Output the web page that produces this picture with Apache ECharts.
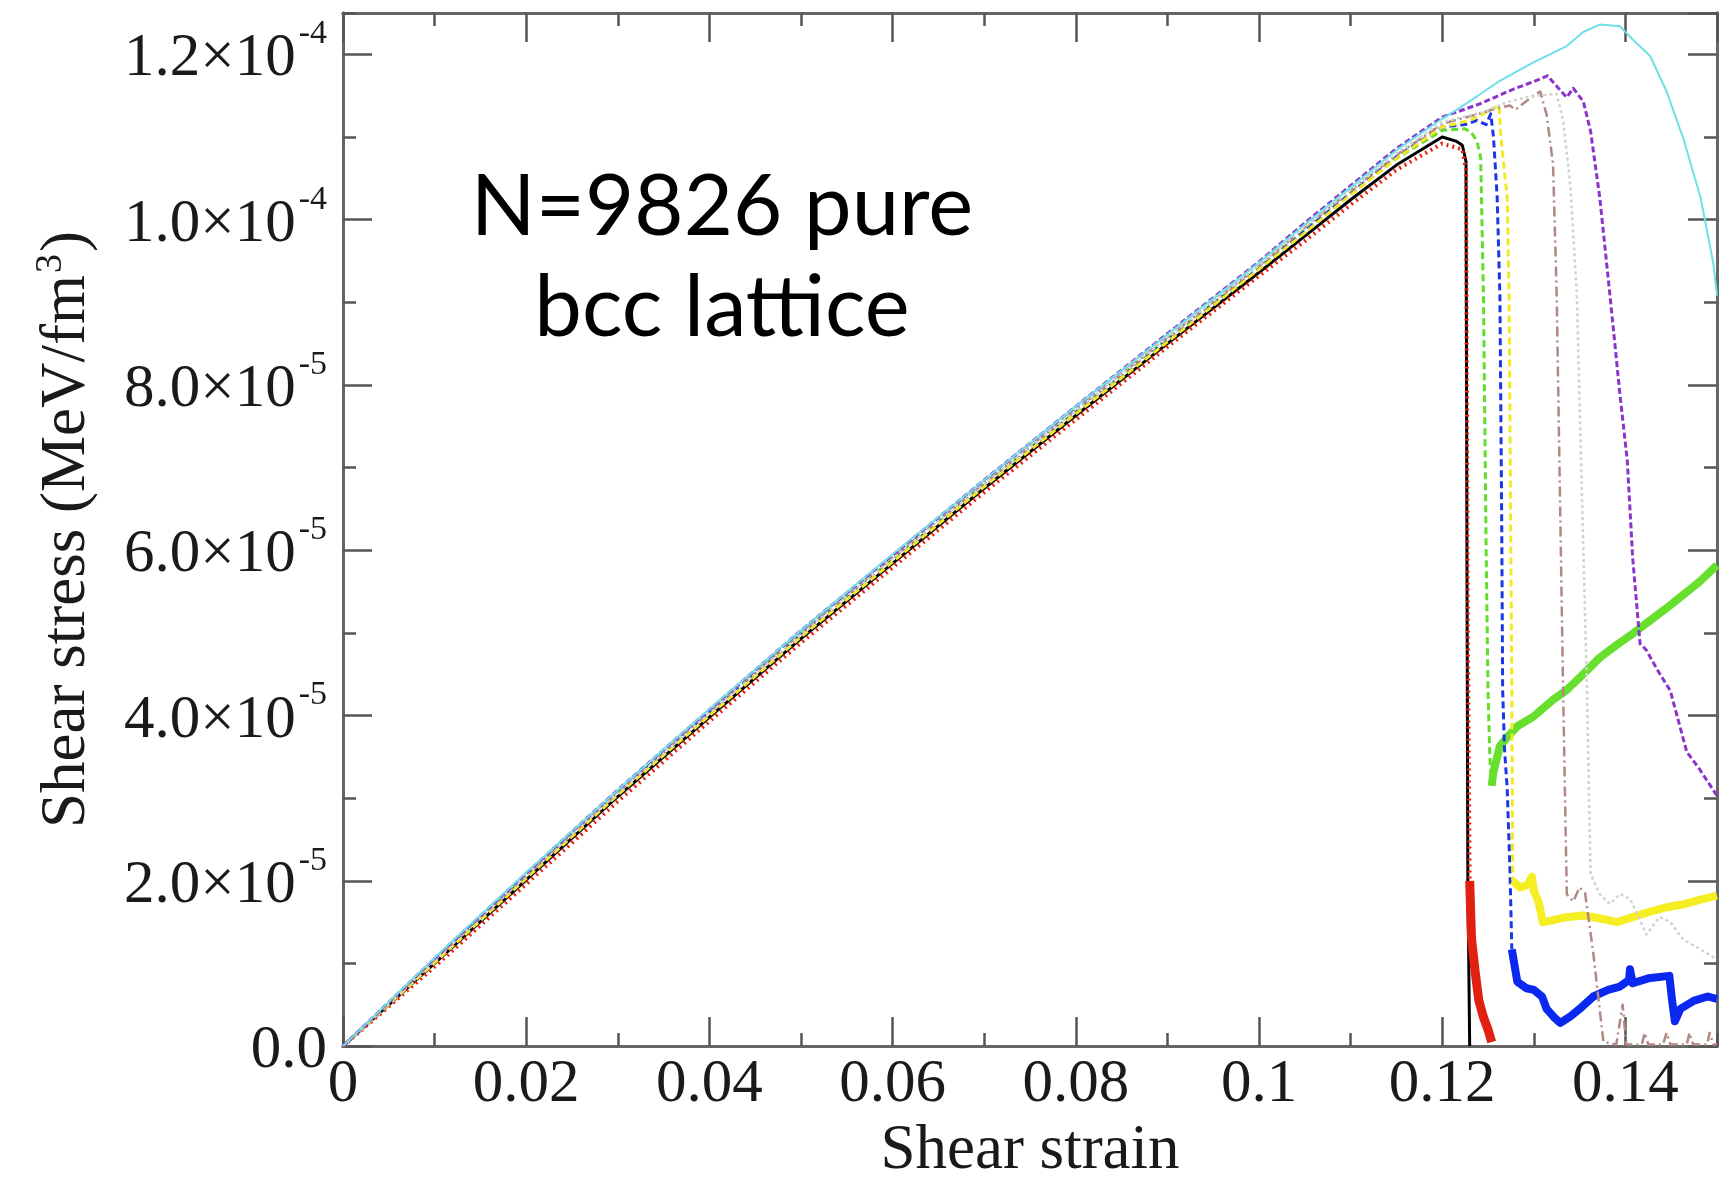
<!DOCTYPE html>
<html>
<head>
<meta charset="utf-8">
<script src="https://cdn.jsdelivr.net/npm/echarts@6/dist/echarts.min.js"></script>
<style>
html,body{margin:0;padding:0;background:#fff;}
#chart{width:1736px;height:1188px;}
</style>
</head>
<body>
<div id="chart"></div>
<script>
// Shear strain (x) and shear stress in units of 1e-5 MeV/fm^3 (y)
const loadStrain = [0, 0.01, 0.02, 0.03, 0.04, 0.05, 0.06, 0.07, 0.08, 0.09, 0.10, 0.105, 0.11, 0.115, 0.12];

const blackLoad  = [0, 1.00, 2.01, 3.02, 3.98, 4.93, 5.84, 6.75, 7.63, 8.50, 9.36, 9.80, 10.24, 10.66, 11.00];
const redLoad    = [0, 0.96, 1.96, 2.96, 3.93, 4.88, 5.79, 6.70, 7.58, 8.46, 9.32, 9.74, 10.18, 10.60, 10.92];
const greenLoad  = [0, 1.04, 2.06, 3.07, 4.03, 4.99, 5.89, 6.80, 7.68, 8.56, 9.42, 9.88, 10.31, 10.74, 11.08];
const blueLoad   = [0, 1.02, 2.04, 3.05, 4.02, 4.97, 5.87, 6.78, 7.66, 8.54, 9.41, 9.86, 10.32, 10.76, 11.12];
const yellowLoad = [0, 1.01, 2.03, 3.04, 4.00, 4.95, 5.86, 6.77, 7.65, 8.52, 9.40, 9.84, 10.30, 10.74, 11.12];
const brownLoad  = [0, 1.05, 2.06, 3.07, 4.04, 5.00, 5.91, 6.81, 7.70, 8.57, 9.44, 9.90, 10.35, 10.78, 11.16];
const greyLoad   = [0, 1.03, 2.07, 3.06, 4.03, 4.98, 5.90, 6.80, 7.69, 8.57, 9.45, 9.91, 10.36, 10.80, 11.18];
const violetLoad = [0, 1.06, 2.09, 3.10, 4.07, 5.03, 5.94, 6.85, 7.74, 8.62, 9.49, 9.96, 10.41, 10.86, 11.24];
const cyanLoad   = [0, 1.07, 2.10, 3.10, 4.08, 5.03, 5.95, 6.85, 7.74, 8.61, 9.48, 9.94, 10.39, 10.84, 11.22];

const blackTail = [[0.1215,10.95],[0.1222,10.90],[0.1226,10.70],[0.1227,6.0],[0.1228,2.0],[0.1230,0.0]];
const redTail = [[0.1222,10.85],[0.1226,10.60],[0.1228,5.0],[0.1230,2.0]];
const redDebris = [[0.1230,2.0],[0.1232,1.3],[0.1236,0.9],[0.1240,0.55],[0.1245,0.35],[0.1250,0.2],[0.1254,0.05]];
const greenTail = [[0.1225,11.10],[0.1232,11.05],[0.1238,10.95],[0.1242,10.75],[0.1245,9.1],[0.1248,6.0],[0.1250,4.3],[0.1252,3.5],[0.1254,3.15]];
const greenAfter = [[0.1254,3.15],[0.1256,3.32],[0.1263,3.63],[0.1272,3.75],[0.1282,3.87],[0.1300,3.99],[0.1321,4.19],[0.1336,4.31],[0.1354,4.50],[0.1372,4.70],[0.1390,4.85],[0.1408,4.99],[0.1427,5.15],[0.1445,5.30],[0.1463,5.46],[0.1481,5.62],[0.1500,5.82]];
const blueTail = [[0.1225,11.15],[0.1238,11.20],[0.1248,11.15],[0.1253,11.28],[0.1256,11.0],[0.1260,10.27],[0.1263,9.08],[0.1265,6.3],[0.1266,4.31],[0.1268,3.6],[0.1271,3.11],[0.1274,2.12],[0.1276,1.17]];
const blueAfter = [[0.1276,1.17],[0.1282,0.78],[0.1292,0.70],[0.1300,0.68],[0.1309,0.60],[0.1314,0.45],[0.1322,0.35],[0.1329,0.28],[0.1340,0.36],[0.1350,0.45],[0.1365,0.60],[0.1381,0.68],[0.1394,0.72],[0.1404,0.80],[0.1405,0.93],[0.1408,0.76],[0.1425,0.82],[0.1448,0.85],[0.1451,0.55],[0.1454,0.30],[0.1460,0.45],[0.1475,0.55],[0.1490,0.60],[0.1500,0.57]];
const yellowTail = [[0.1230,11.20],[0.1245,11.28],[0.1262,11.38],[0.1264,11.0],[0.1271,10.27],[0.1273,9.08],[0.1276,4.31],[0.1277,2.0]];
const yellowAfter = [[0.1277,2.0],[0.1285,1.92],[0.1293,1.95],[0.1298,2.05],[0.1300,1.88],[0.1305,1.75],[0.1310,1.50],[0.1320,1.52],[0.1335,1.56],[0.1354,1.58],[0.1370,1.55],[0.1391,1.50],[0.1408,1.56],[0.1425,1.62],[0.1445,1.68],[0.1465,1.72],[0.1481,1.77],[0.1500,1.82]];
const brownTail = [[0.1240,11.28],[0.1260,11.35],[0.1274,11.38],[0.1280,11.33],[0.1296,11.47],[0.1307,11.55],[0.1314,11.27],[0.1321,10.67],[0.1325,9.08],[0.1332,4.31],[0.1336,1.84],[0.1343,1.75],[0.1350,1.92],[0.1356,1.85],[0.1365,1.12],[0.1376,0.05],[0.1390,0.02],[0.1397,0.50],[0.1401,0.02],[0.1418,0.02],[0.1421,0.16],[0.1425,0.02],[0.1441,0.02],[0.1445,0.16],[0.1449,0.02],[0.1467,0.02],[0.1470,0.16],[0.1474,0.02],[0.1489,0.02],[0.1492,0.16],[0.1496,0.02],[0.1500,0.02]];
const greyTail = [[0.1245,11.30],[0.1270,11.42],[0.1300,11.50],[0.1325,11.52],[0.1332,11.20],[0.1340,10.40],[0.1347,9.08],[0.1358,4.31],[0.1362,2.08],[0.1372,1.84],[0.1383,1.72],[0.1394,1.84],[0.1405,1.78],[0.1413,1.60],[0.1423,1.35],[0.1437,1.56],[0.1449,1.50],[0.1463,1.29],[0.1482,1.17],[0.1500,1.05]];
const violetTail = [[0.1241,11.40],[0.1278,11.58],[0.1300,11.67],[0.1315,11.74],[0.1330,11.55],[0.1336,11.48],[0.1343,11.59],[0.1354,11.43],[0.1362,11.07],[0.1372,10.27],[0.1383,9.10],[0.1394,7.89],[0.1402,7.09],[0.1408,5.90],[0.1416,4.87],[0.1423,4.79],[0.1435,4.55],[0.1449,4.30],[0.1467,3.56],[0.1481,3.35],[0.1500,3.03]];
const cyanTail = [[0.1223,11.38],[0.1263,11.68],[0.1299,11.90],[0.1336,12.10],[0.1354,12.27],[0.1372,12.36],[0.1394,12.34],[0.1408,12.18],[0.1427,11.98],[0.1445,11.55],[0.1463,10.99],[0.1482,10.27],[0.1496,9.47],[0.1500,9.08]];

const xTickLabels = ['0', '0.02', '0.04', '0.06', '0.08', '0.1', '0.12', '0.14'];
const yTickMantissa = ['0.0', '2.0', '4.0', '6.0', '8.0', '1.0', '1.2'];
const yTickExponent = ['', '-5', '-5', '-5', '-5', '-4', '-4'];
const noteLines = ['N=9826 pure', 'bcc lattice'];

function curve(load, tail) {
  return loadStrain.map((x, i) => [x, load[i]]).concat(tail);
}

const SERIF = '"Liberation Serif", "Times New Roman", serif';
const SANS = 'Lato, "Open Sans", sans-serif';
const AXIS_COLOR = '#666666';
const TICK_COLOR = '#555555';

function xAxisDef(pos, interval, tickLen, showLabel, name) {
  return {
    type: 'value', position: pos, min: 0, max: 0.15, interval: interval,
    gridIndex: 0,
    axisLine: { show: true, onZero: false, lineStyle: { color: AXIS_COLOR, width: 3 } },
    axisTick: { show: true, inside: true, length: tickLen, lineStyle: { color: TICK_COLOR, width: 2.5 } },
    splitLine: { show: false },
    axisLabel: {
      show: showLabel, margin: 8, showMaxLabel: false,
      fontFamily: SERIF, fontSize: 61, color: '#1a1a1a',
      formatter: v => xTickLabels[Math.round(v / 0.02)] || ''
    },
    name: name || '', nameLocation: 'middle', nameGap: 68,
    nameTextStyle: { fontFamily: SERIF, fontSize: 63, color: '#1a1a1a' }
  };
}

function yAxisDef(pos, interval, tickLen, showLabel, withName) {
  return {
    type: 'value', position: pos, min: 0, max: 12.5, interval: interval,
    gridIndex: 0,
    axisLine: { show: true, onZero: false, lineStyle: { color: AXIS_COLOR, width: 3 } },
    axisTick: { show: true, inside: true, length: tickLen, lineStyle: { color: TICK_COLOR, width: 2.5 } },
    splitLine: { show: false },
    axisLabel: {
      show: showLabel, margin: 16, showMaxLabel: false,
      padding: [10, 0, 0, 0],
      formatter: v => {
        const i = Math.round(v / 2);
        if (i < 0 || i >= yTickMantissa.length) return '';
        if (!yTickExponent[i]) return '{a|' + yTickMantissa[i] + '}';
        return '{a|' + yTickMantissa[i] + '×10}{b|' + yTickExponent[i] + '}';
      },
      rich: {
        a: { fontFamily: SERIF, fontSize: 61, lineHeight: 84, color: '#1a1a1a' },
        b: { fontFamily: SERIF, fontSize: 34, lineHeight: 34, verticalAlign: 'top', color: '#1a1a1a', padding: [0, 0, 0, 3] }
      }
    },
    name: withName ? '{n|Shear stress (MeV/fm}{s|3}{n|)}' : '',
    nameLocation: 'middle', nameGap: 241,
    nameTextStyle: {
      rich: {
        n: { fontFamily: SERIF, fontSize: 63, lineHeight: 70, color: '#1a1a1a' },
        s: { fontFamily: SERIF, fontSize: 38, lineHeight: 38, verticalAlign: 'top', color: '#1a1a1a', padding: [0, 2, 0, 2] }
      }
    }
  };
}

function lineSeries(name, data, color, width, type, z) {
  return {
    name: name, type: 'line', data: data, xAxisIndex: 0, yAxisIndex: 0,
    symbol: 'none', smooth: false, silent: true, animation: false, z: z,
    lineStyle: { color: color, width: width, type: type, cap: 'butt', join: 'round' }
  };
}

const chart = echarts.init(document.getElementById('chart'), null, { renderer: 'canvas' });
chart.setOption({
  backgroundColor: '#ffffff',
  animation: false,
  grid: { left: 343, right: 19, top: 13, bottom: 127, containLabel: false },
  xAxis: [
    xAxisDef('bottom', 0.02, 29, true, 'Shear strain'),
    xAxisDef('bottom', 0.01, 13, false),
    xAxisDef('top', 0.02, 29, false),
    xAxisDef('top', 0.01, 13, false)
  ],
  yAxis: [
    yAxisDef('left', 2, 29, true, true),
    yAxisDef('left', 1, 13, false, false),
    yAxisDef('right', 2, 29, false, false),
    yAxisDef('right', 1, 13, false, false)
  ],
  graphic: [
    { type: 'text', z: 100, style: { text: noteLines[0], x: 722, y: 208, align: 'center', verticalAlign: 'middle', fontFamily: SANS, fontSize: 85, fill: '#000' } },
    { type: 'text', z: 100, style: { text: noteLines[1], x: 722, y: 309, align: 'center', verticalAlign: 'middle', fontFamily: SANS, fontSize: 85, fill: '#000' } }
  ],
  series: [
    lineSeries('black', curve(blackLoad, blackTail), '#000000', 3, 'solid', 2),
    lineSeries('red', curve(redLoad, redTail), '#e8220e', 4, [2, 4], 3),
    lineSeries('redDebris', redDebris, '#e02010', 9, 'solid', 3),
    lineSeries('green', curve(greenLoad, greenTail), '#62de2a', 3, [7, 4], 4),
    lineSeries('greenAfter', greenAfter, '#66e02c', 8, 'solid', 4),
    lineSeries('blue', curve(blueLoad, blueTail), '#1a36e8', 3, [7, 4], 5),
    lineSeries('blueAfter', blueAfter, '#0a28f0', 8, 'solid', 5),
    lineSeries('yellow', curve(yellowLoad, yellowTail), '#f2ea20', 3, [7, 4], 6),
    lineSeries('yellowAfter', yellowAfter, '#f4ee22', 8, 'solid', 6),
    lineSeries('brown', curve(brownLoad, brownTail), '#b08884', 2.5, [10, 4, 2, 4], 7),
    lineSeries('grey', curve(greyLoad, greyTail), '#d2d2d2', 2.5, [3, 3], 8),
    lineSeries('violet', curve(violetLoad, violetTail), '#8a34cc', 3, [6, 3], 9),
    lineSeries('cyan', curve(cyanLoad, cyanTail), '#6ee0e8', 2, 'solid', 10)
  ]
});
</script>
</body>
</html>
